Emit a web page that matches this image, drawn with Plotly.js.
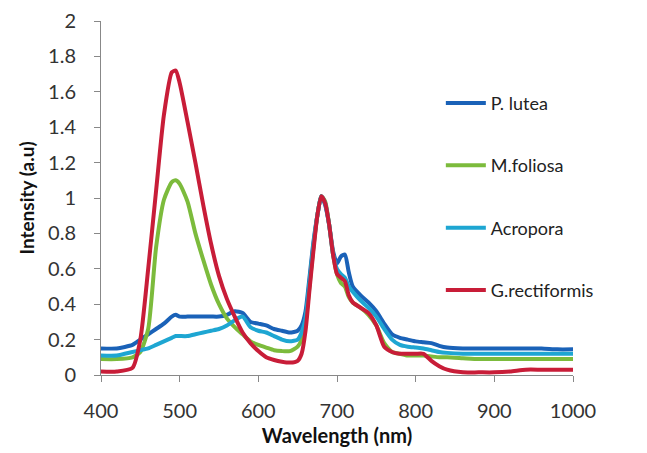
<!DOCTYPE html>
<html>
<head>
<meta charset="utf-8">
<script src="https://cdn.plot.ly/plotly-3.0.1.min.js"></script>
<style>html,body{margin:0;padding:0;background:#fff;}#chart{width:647px;height:453px;}</style>
</head>
<body>
<div id="chart"></div>
<script>
var wavelength = [400,420,440,450,460,470,480,490,495,500,510,520,530,540,550,560,570,580,590,600,610,620,630,640,650,655,660,665,670,675,680,685,690,695,700,705,710,715,720,730,740,750,760,770,780,790,800,810,820,830,840,860,880,900,920,940,960,980,1000];

var pLutea = [0.15,0.15,0.17,0.2,0.23,0.26,0.29,0.33,0.34,0.33,0.33,0.33,0.33,0.33,0.33,0.34,0.36,0.35,0.3,0.29,0.28,0.26,0.25,0.24,0.25,0.28,0.36,0.55,0.75,0.9,1.01,0.96,0.85,0.7,0.63,0.67,0.68,0.58,0.5,0.45,0.41,0.36,0.29,0.23,0.21,0.2,0.19,0.185,0.18,0.165,0.155,0.15,0.15,0.15,0.15,0.15,0.15,0.145,0.145];

var mFoliosa = [0.09,0.09,0.1,0.13,0.26,0.72,0.99,1.09,1.1,1.08,0.98,0.8,0.65,0.51,0.4,0.32,0.27,0.23,0.19,0.17,0.155,0.14,0.135,0.135,0.16,0.2,0.3,0.5,0.72,0.9,1.01,0.98,0.85,0.68,0.57,0.52,0.5,0.44,0.41,0.38,0.34,0.28,0.18,0.13,0.12,0.11,0.11,0.11,0.105,0.1,0.1,0.095,0.09,0.09,0.09,0.09,0.09,0.09,0.09];

var acropora = [0.11,0.11,0.13,0.14,0.15,0.17,0.19,0.21,0.22,0.22,0.22,0.23,0.24,0.25,0.26,0.28,0.31,0.33,0.27,0.25,0.24,0.22,0.2,0.19,0.2,0.24,0.32,0.52,0.73,0.9,1.01,0.97,0.85,0.68,0.6,0.57,0.55,0.5,0.47,0.42,0.38,0.33,0.26,0.2,0.17,0.16,0.155,0.15,0.14,0.13,0.125,0.12,0.12,0.12,0.12,0.12,0.12,0.12,0.12];

var gRectiformis = [0.02,0.02,0.04,0.2,0.6,1.04,1.47,1.71,1.72,1.65,1.43,1.2,0.96,0.74,0.56,0.43,0.33,0.24,0.18,0.135,0.1,0.085,0.075,0.07,0.08,0.12,0.25,0.48,0.7,0.9,1.01,0.97,0.85,0.68,0.57,0.55,0.53,0.45,0.41,0.38,0.35,0.28,0.16,0.13,0.12,0.12,0.12,0.12,0.08,0.05,0.03,0.015,0.015,0.015,0.02,0.03,0.03,0.03,0.03];

var seriesNames = ["P. lutea","M.foliosa","Acropora","G.rectiformis"];
var seriesData = [pLutea, mFoliosa, acropora, gRectiformis];
var seriesColors = ["#1a62b8","#7cbb3c","#1ea6d2","#c81d38"];

var FONT = "Lato, 'Open Sans', sans-serif";

var traces = seriesNames.map(function(n, i){
  return {
    x: wavelength, y: seriesData[i], type: "scatter", mode: "lines", name: n,
    legendgroup: "g" + i,
    line: {color: seriesColors[i], width: 4, shape: "spline", smoothing: 0.6}
  };
});

var layout = {
  width: 647, height: 453,
  margin: {l: 101, r: 74, t: 21, b: 78},
  paper_bgcolor: "#ffffff", plot_bgcolor: "#ffffff",
  font: {family: FONT, size: 19, color: "#333333"},
  showlegend: true,
  legend: {
    x: 0.72, y: 0.82, xanchor: "left", yanchor: "top",
    bgcolor: "rgba(255,255,255,0)",
    font: {family: FONT, size: 18, color: "#222222"},
    tracegroupgap: 36, itemwidth: 40
  },
  xaxis: {
    range: [400, 1000], tickvals: [400,500,600,700,800,900,1000],
    ticks: "outside", ticklen: 6, tickcolor: "#888888",
    showline: true, linecolor: "#888888", linewidth: 1,
    showgrid: false, zeroline: false, ticklabelstandoff: 12,
    tickfont: {family: FONT, size: 20, color: "#333333"},
    title: {text: "Wavelength (nm)", font: {family: FONT, size: 20, color: "#111111", weight: "bold"}, standoff: 7}
  },
  yaxis: {
    range: [0, 2], tickvals: [0,0.2,0.4,0.6,0.8,1,1.2,1.4,1.6,1.8,2],
    ticktext: ["0","0.2","0.4","0.6","0.8","1","1.2","1.4","1.6","1.8","2"],
    ticks: "outside", ticklen: 6, tickcolor: "#888888",
    showline: true, linecolor: "#888888", linewidth: 1,
    showgrid: false, zeroline: false, ticklabelstandoff: 14,
    tickfont: {family: FONT, size: 20, color: "#333333"},
    title: {text: "Intensity (a.u)", font: {family: FONT, size: 19, color: "#111111", weight: "bold"}, standoff: 8}
  }
};

Plotly.newPlot("chart", traces, layout, {displayModeBar: false, staticPlot: true});
</script>
</body>
</html>
